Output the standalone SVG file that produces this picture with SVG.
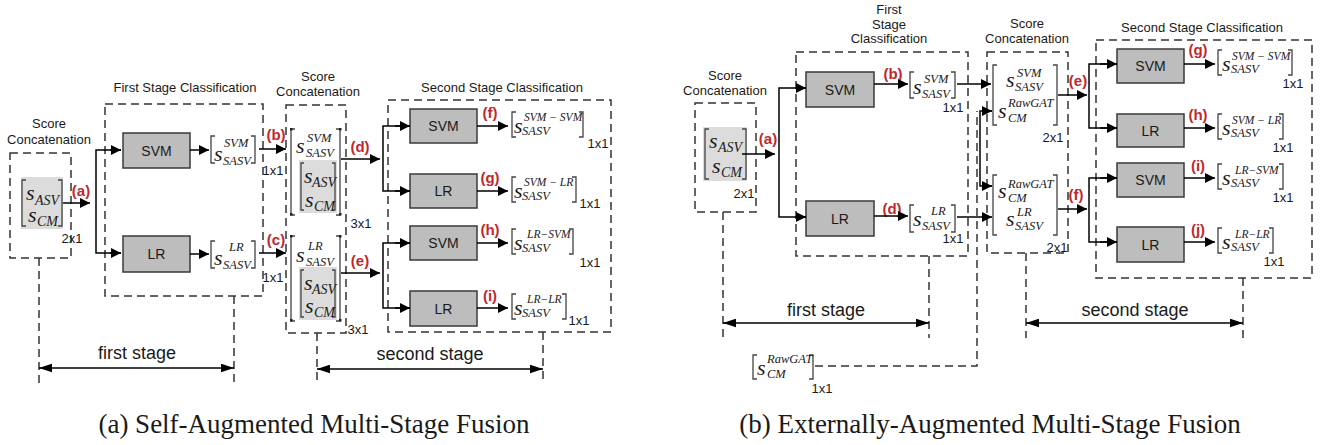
<svg xmlns="http://www.w3.org/2000/svg" width="1331" height="445" viewBox="0 0 1331 445">
<defs>
<style>
.lbl{font-family:"Liberation Sans",Arial,sans-serif;font-size:13px;fill:#1a1a1a;text-anchor:middle}
.dim{font-family:"Liberation Sans",Arial,sans-serif;font-size:18px;fill:#1a1a1a;text-anchor:middle}
.cap{font-family:"Liberation Serif","Times New Roman",serif;font-size:27px;fill:#1a1a1a;text-anchor:middle}
.red{font-family:"Liberation Sans",Arial,sans-serif;font-size:15px;font-weight:bold;fill:#c0282d;text-anchor:middle}
.clf{font-family:"Liberation Sans",Arial,sans-serif;font-size:14px;fill:#1a1a1a;text-anchor:middle}
.box{fill:#bdbdbd;stroke:#3a3a3a;stroke-width:1.5}
.gray{fill:#dcdcdc;stroke:none}
.dash{fill:none;stroke:#333;stroke-width:1.5;stroke-dasharray:8 5}
.conn{fill:none;stroke:#000;stroke-width:1.5}
.br{fill:none;stroke:#444;stroke-width:1.3}
.ms{font-family:"Liberation Serif","Times New Roman",serif;font-style:italic;font-size:22px;fill:#1a1a1a}
.mb{font-family:"Liberation Serif","Times New Roman",serif;font-style:italic;font-size:14px;fill:#1a1a1a}
.mt{font-family:"Liberation Serif","Times New Roman",serif;font-style:italic;font-size:12.5px;fill:#1a1a1a}
.mu{font-family:"Liberation Serif","Times New Roman",serif;font-style:italic;font-size:11.5px;fill:#1a1a1a}
</style>
<marker id="ah" viewBox="0 0 10 10" refX="10" refY="5" markerWidth="11" markerHeight="10" markerUnits="userSpaceOnUse" orient="auto-start-reverse"><path d="M0,0 L10,5 L0,10 z" fill="#000"/></marker>
<marker id="dh" viewBox="0 0 12 8" refX="12" refY="4" markerWidth="13" markerHeight="9" markerUnits="userSpaceOnUse" orient="auto-start-reverse"><path d="M0,0 L12,4 L0,8 z" fill="#000"/></marker>
</defs>
<rect width="1331" height="445" fill="#fff"/>

<!-- ================= PANEL (a) ================= -->
<g id="a-concat1">
<text class="lbl" x="49" y="128">Score</text>
<text class="lbl" x="49" y="144">Concatenation</text>
<rect class="dash" x="10" y="153" width="61" height="105"/>
<rect class="gray" x="21" y="177" width="42" height="52"/>
<path class="br" d="M26,180 H22 V226 H26 M58,180 H62 V226 H58"/>
<text class="ms" x="26" y="200">s</text><text class="mb" x="35" y="205">ASV</text>
<text class="ms" x="28" y="222">s</text><text class="mb" x="37" y="226">CM</text>
<text class="lbl" x="72" y="243">2x1</text>
</g>

<g id="a-stage1">
<text class="lbl" x="185" y="92">First Stage Classification</text>
<rect class="dash" x="105" y="104" width="158" height="192"/>
</g>
<g id="a-svm1"><rect class="box" x="123" y="133" width="67" height="35"/><text class="clf" x="156.5" y="155.5">SVM</text></g>
<g id="a-lr1"><rect class="box" x="123" y="236" width="67" height="36"/><text class="clf" x="156.5" y="259">LR</text></g>
<g id="a-out-svm">
<path class="br" d="M215,136 H211 V163 H215 M251,136 H255 V163 H251"/>
<text class="ms" x="214" y="161">s</text><text class="mt" x="224" y="147">SVM</text><text class="mt" x="223" y="165">SASV</text>
</g>
<g id="a-out-lr">
<path class="br" d="M215,241 H211 V268 H215 M251,241 H255 V268 H251"/>
<text class="ms" x="214" y="265">s</text><text class="mt" x="229" y="251">LR</text><text class="mt" x="223" y="269">SASV</text>
</g>
<text class="lbl" x="273" y="175">1x1</text>
<text class="lbl" x="273" y="282">1x1</text>

<g id="a-concat2">
<text class="lbl" x="318" y="81">Score</text>
<text class="lbl" x="318" y="96">Concatenation</text>
<rect class="dash" x="286" y="105" width="60" height="228"/>
<path class="br" d="M295,129 H291 V215 H295 M336,129 H340 V215 H336"/>
<rect x="290" y="128" width="2.5" height="2.5" fill="#222"/><rect x="290" y="213" width="2.5" height="2.5" fill="#222"/>
<rect x="339" y="128" width="2.5" height="2.5" fill="#222"/><rect x="339" y="213" width="2.5" height="2.5" fill="#222"/>
<text class="ms" x="296" y="153">s</text><text class="mt" x="307" y="142">SVM</text><text class="mt" x="306" y="157">SASV</text>
<rect class="gray" x="299" y="160" width="38" height="53"/>
<path class="br" d="M304,163 H301 V210 H304 M332,163 H335 V210 H332"/>
<text class="ms" x="304" y="183">s</text><text class="mb" x="312" y="187">ASV</text>
<text class="ms" x="305" y="207">s</text><text class="mb" x="314" y="211">CM</text>
<path class="br" d="M295,236 H291 V321 H295 M336,236 H340 V321 H336"/>
<rect x="290" y="235" width="2.5" height="2.5" fill="#222"/><rect x="290" y="319" width="2.5" height="2.5" fill="#222"/>
<rect x="339" y="235" width="2.5" height="2.5" fill="#222"/><rect x="339" y="319" width="2.5" height="2.5" fill="#222"/>
<text class="ms" x="296" y="262">s</text><text class="mt" x="308" y="250">LR</text><text class="mt" x="306" y="266">SASV</text>
<rect class="gray" x="299" y="267" width="38" height="53"/>
<path class="br" d="M304,270 H301 V317 H304 M332,270 H335 V317 H332"/>
<text class="ms" x="304" y="290">s</text><text class="mb" x="312" y="294">ASV</text>
<text class="ms" x="305" y="313">s</text><text class="mb" x="314" y="317">CM</text>
<text class="lbl" x="361" y="228">3x1</text>
<text class="lbl" x="358" y="334">3x1</text>
</g>

<g id="a-stage2">
<text class="lbl" x="502" y="92">Second Stage Classification</text>
<rect class="dash" x="388" y="100" width="223" height="232"/>
</g>
<g id="a-svm2"><rect class="box" x="410" y="109" width="67" height="34"/><text class="clf" x="443.5" y="131">SVM</text></g>
<g id="a-lr2"><rect class="box" x="410" y="174" width="67" height="34"/><text class="clf" x="443.5" y="196">LR</text></g>
<g id="a-svm3"><rect class="box" x="410" y="226" width="67" height="34"/><text class="clf" x="443.5" y="248">SVM</text></g>
<g id="a-lr3"><rect class="box" x="410" y="291" width="67" height="35"/><text class="clf" x="443.5" y="313.5">LR</text></g>

<g id="a-out-f">
<path class="br" d="M516,112 H512 V137 H516 M579,112 H583 V137 H579"/>
<text class="ms" x="514" y="133">s</text><text class="mu" x="524" y="121">SVM − SVM</text><text class="mt" x="522" y="135">SASV</text>
<text class="lbl" x="598" y="148">1x1</text>
</g>
<g id="a-out-g">
<path class="br" d="M516,177 H512 V202 H516 M572,177 H576 V202 H572"/>
<text class="ms" x="514" y="198">s</text><text class="mu" x="524" y="186">SVM − LR</text><text class="mt" x="522" y="200">SASV</text>
<text class="lbl" x="590" y="208">1x1</text>
</g>
<g id="a-out-h">
<path class="br" d="M516,229 H512 V254 H516 M569,229 H573 V254 H569"/>
<text class="ms" x="514" y="250">s</text><text class="mu" x="527" y="238">LR−SVM</text><text class="mt" x="522" y="252">SASV</text>
<text class="lbl" x="590" y="267">1x1</text>
</g>
<g id="a-out-i">
<path class="br" d="M516,294 H512 V319 H516 M562,294 H566 V319 H562"/>
<text class="ms" x="514" y="315">s</text><text class="mu" x="527" y="303">LR−LR</text><text class="mt" x="522" y="317">SASV</text>
<text class="lbl" x="579" y="325">1x1</text>
</g>

<g id="a-labels">
<text class="red" x="81" y="196">(a)</text>
<text class="red" x="276" y="140">(b)</text>
<text class="red" x="276" y="245">(c)</text>
<text class="red" x="360" y="152">(d)</text>
<text class="red" x="360" y="266">(e)</text>
<text class="red" x="490" y="118">(f)</text>
<text class="red" x="490" y="183">(g)</text>
<text class="red" x="490" y="235">(h)</text>
<text class="red" x="490" y="301">(i)</text>
</g>

<g id="a-dims">
<text class="dim" x="137" y="359">first stage</text>
<text class="dim" x="430" y="360">second stage</text>
<text class="cap" x="314" y="433">(a) Self-Augmented Multi-Stage Fusion</text>
</g>

<!-- ================= PANEL (b) ================= -->
<g id="b-concat1">
<text class="lbl" x="725" y="80">Score</text>
<text class="lbl" x="725" y="95">Concatenation</text>
<rect class="dash" x="695" y="103" width="61" height="109"/>
<rect class="gray" x="703" y="127" width="44" height="54"/>
<path class="br" d="M709,129 H705 V179 H709 M742,129 H746 V179 H742"/>
<text class="ms" x="709" y="148">s</text><text class="mb" x="718" y="152">ASV</text>
<text class="ms" x="712" y="173">s</text><text class="mb" x="721" y="177">CM</text>
<text class="lbl" x="744" y="198">2x1</text>
</g>

<g id="b-stage1">
<text class="lbl" x="889" y="14">First</text>
<text class="lbl" x="889" y="29">Stage</text>
<text class="lbl" x="889" y="43">Classification</text>
<rect class="dash" x="796" y="52" width="172" height="204"/>
</g>
<g id="b-svm1"><rect class="box" x="806" y="72" width="68" height="35"/><text class="clf" x="840" y="94.5">SVM</text></g>
<g id="b-lr1"><rect class="box" x="806" y="201" width="68" height="35"/><text class="clf" x="840" y="223.5">LR</text></g>
<g id="b-out-svm">
<path class="br" d="M914,72 H910 V98 H914 M951,72 H955 V98 H951"/>
<text class="ms" x="913" y="94">s</text><text class="mt" x="924" y="83">SVM</text><text class="mt" x="922" y="98">SASV</text>
<text class="lbl" x="953" y="112">1x1</text>
</g>
<g id="b-out-lr">
<path class="br" d="M914,205 H910 V232 H914 M951,205 H955 V232 H951"/>
<text class="ms" x="913" y="226">s</text><text class="mt" x="931" y="215">LR</text><text class="mt" x="922" y="230">SASV</text>
<text class="lbl" x="953" y="243">1x1</text>
</g>

<g id="b-concat2">
<text class="lbl" x="1027" y="28">Score</text>
<text class="lbl" x="1027" y="43">Concatenation</text>
<rect class="dash" x="987" y="52" width="81" height="201"/>
<path class="br" d="M997,65 H993 V125 H997 M1053,65 H1057 V125 H1053"/>
<text class="ms" x="1006" y="87">s</text><text class="mt" x="1017" y="77">SVM</text><text class="mt" x="1015" y="91">SASV</text>
<text class="ms" x="998" y="118">s</text><text class="mt" x="1008" y="107">RawGAT</text><text class="mt" x="1008" y="122">CM</text>
<text class="lbl" x="1053" y="142">2x1</text>
<path class="br" d="M997,175 H993 V235 H997 M1053,175 H1057 V235 H1053"/>
<text class="ms" x="998" y="198">s</text><text class="mt" x="1008" y="188">RawGAT</text><text class="mt" x="1008" y="202">CM</text>
<text class="ms" x="1006" y="226">s</text><text class="mt" x="1017" y="216">LR</text><text class="mt" x="1015" y="230">SASV</text>
<text class="lbl" x="1057" y="252">2x1</text>
</g>

<g id="b-stage2">
<text class="lbl" x="1202" y="32">Second Stage Classification</text>
<rect class="dash" x="1096" y="40" width="216" height="238"/>
</g>
<g id="b-svm2"><rect class="box" x="1117" y="49" width="67" height="34"/><text class="clf" x="1150.5" y="71">SVM</text></g>
<g id="b-lr2"><rect class="box" x="1117" y="114" width="67" height="33"/><text class="clf" x="1150.5" y="135.5">LR</text></g>
<g id="b-svm3"><rect class="box" x="1117" y="163" width="67" height="34"/><text class="clf" x="1150.5" y="185">SVM</text></g>
<g id="b-lr3"><rect class="box" x="1117" y="227" width="67" height="35"/><text class="clf" x="1150.5" y="249.5">LR</text></g>

<g id="b-out-g">
<path class="br" d="M1222,50 H1218 V75 H1222 M1288,50 H1292 V75 H1288"/>
<text class="ms" x="1222" y="71">s</text><text class="mu" x="1232" y="60">SVM − SVM</text><text class="mt" x="1231" y="73">SASV</text>
<text class="lbl" x="1293" y="88">1x1</text>
</g>
<g id="b-out-h">
<path class="br" d="M1222,114 H1218 V139 H1222 M1279,114 H1283 V139 H1279"/>
<text class="ms" x="1222" y="135">s</text><text class="mu" x="1232" y="124">SVM − LR</text><text class="mt" x="1231" y="137">SASV</text>
<text class="lbl" x="1283" y="152">1x1</text>
</g>
<g id="b-out-i">
<path class="br" d="M1222,164 H1218 V189 H1222 M1279,164 H1283 V189 H1279"/>
<text class="ms" x="1222" y="185">s</text><text class="mu" x="1235" y="174">LR−SVM</text><text class="mt" x="1231" y="187">SASV</text>
<text class="lbl" x="1283" y="202">1x1</text>
</g>
<g id="b-out-j">
<path class="br" d="M1222,228 H1218 V253 H1222 M1269,228 H1273 V253 H1269"/>
<text class="ms" x="1222" y="249">s</text><text class="mu" x="1235" y="238">LR−LR</text><text class="mt" x="1231" y="251">SASV</text>
<text class="lbl" x="1274" y="266">1x1</text>
</g>

<g id="b-rawgat">
<path class="br" d="M757,355 H753 V379 H757 M809,355 H813 V379 H809"/>
<text class="ms" x="757" y="375">s</text><text class="mt" x="767" y="363">RawGAT</text><text class="mt" x="767" y="378">CM</text>
<text class="lbl" x="822" y="393">1x1</text>
</g>

<g id="b-labels">
<text class="red" x="768" y="144">(a)</text>
<text class="red" x="893" y="79">(b)</text>
<text class="red" x="892" y="214">(d)</text>
<text class="red" x="1078" y="86">(e)</text>
<text class="red" x="1076" y="200">(f)</text>
<text class="red" x="1198" y="55">(g)</text>
<text class="red" x="1198" y="120">(h)</text>
<text class="red" x="1198" y="171">(i)</text>
<text class="red" x="1198" y="235">(j)</text>
</g>

<g id="b-dims">
<text class="dim" x="826" y="316">first stage</text>
<text class="dim" x="1135" y="316">second stage</text>
<text class="cap" x="990" y="433">(b) Externally-Augmented Multi-Stage Fusion</text>
</g>

<!-- ================= CONNECTORS ================= -->
<g id="connectors">
<!-- panel a -->
<line class="conn" x1="63" y1="203" x2="90" y2="203" marker-end="url(#ah)"/>
<path class="conn" d="M121,150 H96 V253 H121"/>
<line class="conn" x1="110" y1="150" x2="121" y2="150" marker-end="url(#ah)"/>
<line class="conn" x1="110" y1="253" x2="121" y2="253" marker-end="url(#ah)"/>
<line class="conn" x1="190" y1="150" x2="209" y2="150" marker-end="url(#ah)"/>
<line class="conn" x1="190" y1="254" x2="209" y2="254" marker-end="url(#ah)"/>
<line class="conn" x1="259" y1="149" x2="286" y2="149" marker-end="url(#ah)"/>
<line class="conn" x1="259" y1="253" x2="286" y2="253" marker-end="url(#ah)"/>
<line class="conn" x1="341" y1="159" x2="380" y2="159" marker-end="url(#ah)"/>
<line class="conn" x1="341" y1="273" x2="380" y2="273" marker-end="url(#ah)"/>
<path class="conn" d="M410,126 H383 V191 H410"/>
<line class="conn" x1="395" y1="126" x2="410" y2="126" marker-end="url(#ah)"/>
<line class="conn" x1="395" y1="191" x2="410" y2="191" marker-end="url(#ah)"/>
<path class="conn" d="M410,243 H383 V308 H410"/>
<line class="conn" x1="395" y1="243" x2="410" y2="243" marker-end="url(#ah)"/>
<line class="conn" x1="395" y1="308" x2="410" y2="308" marker-end="url(#ah)"/>
<line class="conn" x1="477" y1="126" x2="508" y2="126" marker-end="url(#ah)"/>
<line class="conn" x1="477" y1="191" x2="508" y2="191" marker-end="url(#ah)"/>
<line class="conn" x1="477" y1="243" x2="508" y2="243" marker-end="url(#ah)"/>
<line class="conn" x1="477" y1="308" x2="508" y2="308" marker-end="url(#ah)"/>
<line class="dash" x1="39" y1="258" x2="39" y2="383"/>
<line class="dash" x1="234" y1="296" x2="234" y2="383"/>
<line class="conn" x1="39" y1="368" x2="234" y2="368" marker-start="url(#dh)" marker-end="url(#dh)"/>
<line class="dash" x1="317" y1="333" x2="317" y2="384"/>
<line class="dash" x1="543" y1="332" x2="543" y2="384"/>
<line class="conn" x1="317" y1="369" x2="543" y2="369" marker-start="url(#dh)" marker-end="url(#dh)"/>
<!-- panel b -->
<line class="conn" x1="742" y1="154" x2="775" y2="154" marker-end="url(#ah)"/>
<path class="conn" d="M806,88 H779 V217 H806"/>
<line class="conn" x1="795" y1="88" x2="806" y2="88" marker-end="url(#ah)"/>
<line class="conn" x1="795" y1="217" x2="806" y2="217" marker-end="url(#ah)"/>
<line class="conn" x1="874" y1="84" x2="908" y2="84" marker-end="url(#ah)"/>
<line class="conn" x1="874" y1="216" x2="908" y2="216" marker-end="url(#ah)"/>
<line class="conn" x1="957" y1="84" x2="991" y2="84" marker-end="url(#ah)"/>
<line class="conn" x1="957" y1="217" x2="992" y2="217" marker-end="url(#ah)"/>
<path class="conn" d="M992,111 H980 V186 H992"/>
<line class="conn" x1="982" y1="111" x2="992" y2="111" marker-end="url(#ah)"/>
<line class="conn" x1="982" y1="186" x2="992" y2="186" marker-end="url(#ah)"/>
<path class="dash" d="M815,366 H977 V111"/>
<line class="conn" x1="1058" y1="95" x2="1087" y2="95" marker-end="url(#ah)"/>
<line class="conn" x1="1058" y1="209" x2="1087" y2="209" marker-end="url(#ah)"/>
<path class="conn" d="M1117,64 H1089 V128 H1117"/>
<line class="conn" x1="1100" y1="64" x2="1117" y2="64" marker-end="url(#ah)"/>
<line class="conn" x1="1100" y1="128" x2="1117" y2="128" marker-end="url(#ah)"/>
<path class="conn" d="M1117,178 H1089 V242 H1117"/>
<line class="conn" x1="1100" y1="178" x2="1117" y2="178" marker-end="url(#ah)"/>
<line class="conn" x1="1100" y1="242" x2="1117" y2="242" marker-end="url(#ah)"/>
<line class="conn" x1="1184" y1="64" x2="1215" y2="64" marker-end="url(#ah)"/>
<line class="conn" x1="1184" y1="128" x2="1215" y2="128" marker-end="url(#ah)"/>
<line class="conn" x1="1184" y1="178" x2="1215" y2="178" marker-end="url(#ah)"/>
<line class="conn" x1="1184" y1="242" x2="1215" y2="242" marker-end="url(#ah)"/>
<line class="dash" x1="723" y1="212" x2="723" y2="338"/>
<line class="dash" x1="929" y1="256" x2="929" y2="338"/>
<line class="conn" x1="723" y1="323" x2="929" y2="323" marker-start="url(#dh)" marker-end="url(#dh)"/>
<line class="dash" x1="1026" y1="253" x2="1026" y2="338"/>
<line class="dash" x1="1243" y1="278" x2="1243" y2="338"/>
<line class="conn" x1="1026" y1="323" x2="1243" y2="323" marker-start="url(#dh)" marker-end="url(#dh)"/>
</g>
</svg>
